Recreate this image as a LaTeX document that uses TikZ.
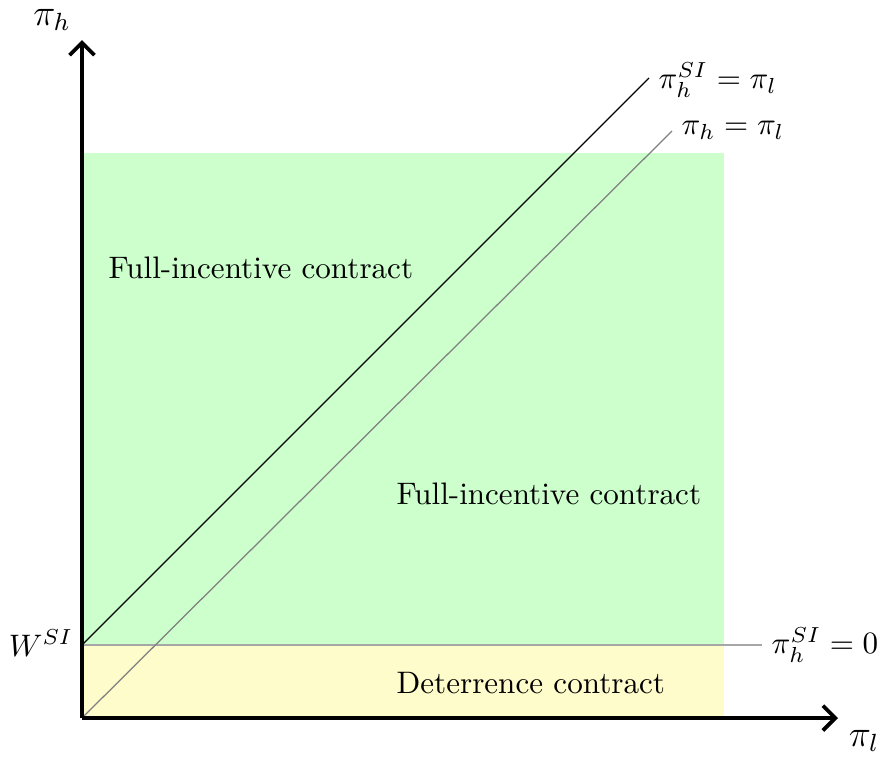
\documentclass[tikz,border=0pt]{standalone}
\usetikzlibrary{arrows.meta}
\begin{document}
\begin{tikzpicture}[x=0.0113cm,y=-0.0113cm,
  axis/.style={line width=1.2pt,-{Straight Barb[length=4pt,width=8pt]}},
  lbl/.style={inner sep=1pt}]
\useasboundingbox (0,0) rectangle (881,758);
\fill[green!20] (82,153) rectangle (724,645);
\fill[yellow!20] (82,645) rectangle (724,718);
\coordinate (O) at (82,718);
\coordinate (W) at (82,645);
\coordinate (hend) at (762,645);
\coordinate (bend) at (649,78);
\coordinate (gend) at (672,131);
\draw[gray!70] (W) -- (hend);
\draw[black] (W) -- (bend);
\draw[gray] (O) -- (gend);
\draw[axis] (O) -- (82,40);
\draw[axis] (O) -- (838,718);
\node[lbl,anchor=west] (l0) at (768,645) {$\pi_h^{SI}=0$};
\node[lbl,anchor=west] (l1) at (655,80) {$\pi_h^{SI}=\pi_l$};
\node[lbl,anchor=west] (l2) at (678,130) {$\pi_h=\pi_l$};
\node[lbl,anchor=east] (lw) at (77,643) {$W^{SI}$};
\node[lbl] (ph) at (52,20) {\large$\pi_h$};
\node[lbl] (pl) at (864,741) {\large$\pi_l$};
\node[inner sep=0pt,anchor=base west] (t1) at (108,278) {Full-incentive contract};
\node[inner sep=0pt,anchor=base west] (t2) at (396,504) {Full-incentive contract};
\node[inner sep=0pt,anchor=base west] (t3) at (396,693) {Deterrence contract};
\end{tikzpicture}
\end{document}
